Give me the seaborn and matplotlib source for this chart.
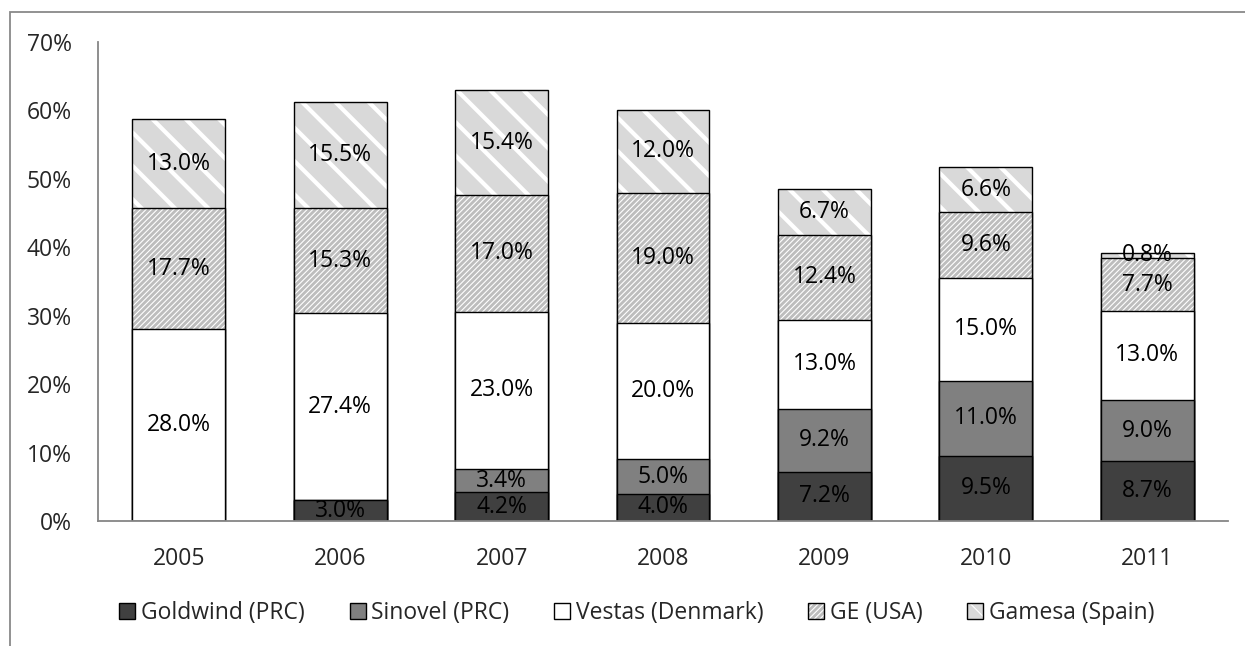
import matplotlib
matplotlib.use("Agg")
import matplotlib.pyplot as plt
from matplotlib.patches import Rectangle, Patch
from matplotlib.legend_handler import HandlerTuple
import seaborn as sns
import numpy as np
import pandas as pd

years = ["2005", "2006", "2007", "2008", "2009", "2010", "2011"]
goldwind = [0.0, 3.0, 4.2, 4.0, 7.2, 9.5, 8.7]
sinovel = [0.0, 0.0, 3.4, 5.0, 9.2, 11.0, 9.0]
vestas = [28.0, 27.4, 23.0, 20.0, 13.0, 15.0, 13.0]
ge = [17.7, 15.3, 17.0, 19.0, 12.4, 9.6, 7.7]
gamesa = [13.0, 15.5, 15.4, 12.0, 6.7, 6.6, 0.8]
series_names = ["Goldwind (PRC)", "Sinovel (PRC)", "Vestas (Denmark)", "GE (USA)", "Gamesa (Spain)"]
yticks = [0, 10, 20, 30, 40, 50, 60, 70]

sns.set_style("white")
plt.rcParams["font.family"] = ["Open Sans", "DejaVu Sans"]
FS = 16.5

# style per series: face, hatch, hatch linewidth
styles = [
    dict(face="#404040", hatch=None, hlw=None),
    dict(face="#808080", hatch=None, hlw=None),
    dict(face="#ffffff", hatch=None, hlw=None),
    dict(face="#bdbdbd", hatch="//////", hlw=0.8),
    dict(face="#d9d9d9", hatch="\\", hlw=3.0),
]

series = [goldwind, sinovel, vestas, ge, gamesa]
cum = np.cumsum(np.array(series), axis=0)  # cumulative tops

fig = plt.figure(figsize=(12.45, 6.46), dpi=100)
W, H = 1245, 646
ax = fig.add_axes([98 / W, 1 - 521 / H, 1130 / W, (521 - 42) / H])

BW = 0.576
# draw from the top layer downward so lower layers cover upper ones
for i in range(len(series) - 1, -1, -1):
    st = styles[i]
    df = pd.DataFrame({"year": years, "top": cum[i]})
    if st["hatch"]:
        plt.rcParams["hatch.linewidth"] = st["hlw"]
        before = len(ax.patches)
        sns.barplot(data=df, x="year", y="top", order=years, color=st["face"],
                    saturation=1, width=BW, ax=ax, hatch=st["hatch"],
                    edgecolor="white", linewidth=0, errorbar=None)
        for p in ax.patches[before:]:
            if hasattr(p, "set_hatch_linewidth"):
                p.set_hatch_linewidth(st["hlw"])
        sns.barplot(data=df, x="year", y="top", order=years, fill=False,
                    width=BW, ax=ax, edgecolor="black", linewidth=1.0,
                    errorbar=None)
    else:
        sns.barplot(data=df, x="year", y="top", order=years, color=st["face"],
                    saturation=1, width=BW, ax=ax, edgecolor="black",
                    linewidth=1.0, errorbar=None)

# value labels
for i, vals in enumerate(series):
    for j, v in enumerate(vals):
        if v <= 0:
            continue
        bottom = cum[i][j] - v
        ax.text(j, bottom + v / 2, f"{v:.1f}%", ha="center", va="center",
                fontsize=FS, color="black")

ax.set_xlim(-0.5, len(years) - 0.5)
ax.set_ylim(0, 70)
ax.set_yticks(yticks)
ax.set_yticklabels([f"{t}%" for t in yticks], fontsize=FS)
ax.set_xticks(range(len(years)))
ax.set_xticklabels(years, fontsize=FS)
ax.set_xlabel("")
ax.set_ylabel("")
ax.tick_params(axis="y", length=0, pad=19)
ax.tick_params(axis="x", length=0, pad=19)
for s in ["top", "right"]:
    ax.spines[s].set_visible(False)
for s in ["left", "bottom"]:
    ax.spines[s].set_color("#868686")
    ax.spines[s].set_linewidth(1.3)

# legend
handles = []
for i, st in enumerate(styles):
    if st["hatch"]:
        h1 = Patch(facecolor=st["face"], edgecolor="white", hatch=st["hatch"], linewidth=0)
        h2 = Patch(facecolor="none", edgecolor="black", linewidth=1.0)
        handles.append((h1, h2))
    else:
        handles.append(Patch(facecolor=st["face"], edgecolor="black", linewidth=1.0))
plt.rcParams["hatch.linewidth"] = 0.8
fig.legend(handles, series_names, loc="center", bbox_to_anchor=(637 / W, 1 - 613 / H),
           ncol=5, frameon=False, fontsize=FS, handlelength=0.7, handleheight=0.7,
           handletextpad=0.25, columnspacing=1.95,
           handler_map={tuple: HandlerTuple(ndivide=1)})

# outer chart frame
fig.add_artist(Rectangle((10 / W, -0.1), 2.0, (1 - 12 / H) + 0.1,
                         transform=fig.transFigure, fill=False,
                         edgecolor="#898989", linewidth=1.3))

fig.savefig("out.png", dpi=100)
